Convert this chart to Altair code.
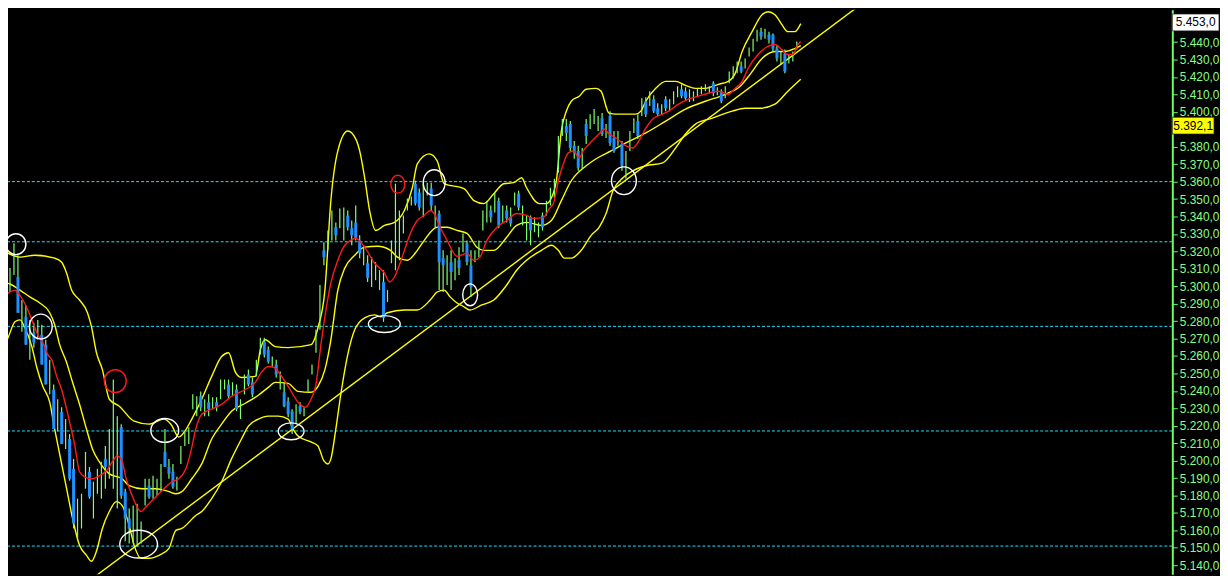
import altair as alt
import pandas as pd

# ---------------- data (prices) ----------------
high = [5309.2, 5309.2, 5310.4, 5324.6, 5317.8, 5292.1, 5289.3, 5280.7, 5279.1, 5280.7,
        5277.9, 5269.3, 5257.9, 5243.7, 5235.2, 5230.6, 5223.8, 5215.2, 5201.0, 5178.2,
        5181.0, 5205.0, 5196.4, 5187.9, 5195.3, 5199.3, 5208.4, 5218.1, 5246.5, 5225.5,
        5220.9, 5183.9, 5172.5, 5174.2, 5175.3, 5165.1, 5189.6, 5189.6, 5191.3, 5189.6,
        5198.1, 5218.1, 5201.0, 5198.1, 5190.7, 5208.4, 5216.9, 5219.2, 5238.0, 5236.9,
        5239.7, 5235.2, 5238.0, 5236.3, 5236.3, 5246.5, 5246.5, 5246.5, 5244.9, 5243.7,
        5235.2, 5249.4, 5252.2, 5247.7, 5257.9, 5270.5, 5270.5, 5265.4, 5259.7, 5257.9,
        5251.1, 5244.9, 5236.3, 5229.5, 5232.3, 5233.5, 5230.6, 5246.5, 5255.1, 5275.1,
        5300.7, 5325.2, 5332.0, 5343.4, 5336.6, 5344.6, 5345.2, 5343.4, 5337.7, 5346.3,
        5329.2, 5323.5, 5317.8, 5316.7, 5313.8, 5309.2, 5309.2, 5297.8, 5326.3, 5358.8,
        5343.4, 5340.6, 5350.3, 5351.4, 5360.5, 5356.0, 5358.8, 5359.4, 5359.4, 5346.3,
        5343.4, 5320.6, 5317.8, 5320.6, 5316.1, 5322.4, 5330.3, 5326.3, 5320.6, 5320.6,
        5326.3, 5343.4, 5349.1, 5346.3, 5353.7, 5350.8, 5346.3, 5346.3, 5345.2, 5353.7,
        5354.8, 5346.3, 5340.6, 5340.6, 5339.5, 5336.6, 5342.3, 5349.1, 5356.5, 5361.7,
        5386.2, 5395.9, 5395.9, 5394.7, 5383.3, 5380.5, 5379.3, 5395.9, 5398.7, 5401.6,
        5397.6, 5399.3, 5393.0, 5400.4, 5389.0, 5389.0, 5383.3, 5377.6, 5389.0, 5396.4,
        5398.7, 5407.8, 5408.4, 5411.8, 5409.5, 5405.0, 5404.4, 5409.0, 5407.3, 5411.8,
        5414.7, 5415.8, 5414.1, 5413.0, 5411.8, 5413.5, 5414.7, 5415.8, 5414.7, 5417.5,
        5414.1, 5413.0, 5414.7, 5423.2, 5426.1, 5428.9, 5428.9, 5430.6, 5436.9, 5442.0,
        5447.1, 5448.3, 5447.7, 5446.0, 5444.9, 5438.0, 5434.6, 5435.7, 5432.9, 5434.6,
        5440.3]
low = [5295.0, 5300.7, 5296.7, 5306.4, 5284.8, 5273.9, 5266.5, 5257.9, 5264.8, 5269.3,
       5255.1, 5243.7, 5238.0, 5218.1, 5216.9, 5209.5, 5206.7, 5188.5, 5161.1, 5155.4,
       5161.1, 5183.9, 5178.2, 5166.8, 5181.0, 5178.2, 5183.9, 5189.6, 5183.9, 5172.5,
       5178.2, 5153.7, 5152.5, 5152.5, 5150.8, 5152.5, 5174.2, 5178.2, 5178.2, 5179.9,
       5182.2, 5196.4, 5189.6, 5183.9, 5182.8, 5198.1, 5208.4, 5209.5, 5229.5, 5225.5,
       5228.3, 5225.5, 5225.5, 5229.5, 5228.3, 5235.2, 5240.8, 5235.2, 5236.9, 5228.3,
       5223.8, 5238.0, 5242.6, 5236.3, 5248.3, 5260.8, 5259.1, 5255.7, 5254.0, 5247.7,
       5240.8, 5230.6, 5224.9, 5215.2, 5220.9, 5226.6, 5225.5, 5239.7, 5249.4, 5261.9,
       5275.1, 5312.1, 5320.6, 5326.3, 5326.3, 5333.2, 5326.3, 5332.0, 5323.5, 5326.3,
       5316.1, 5312.1, 5302.4, 5299.6, 5303.5, 5297.8, 5279.6, 5291.0, 5313.2, 5309.2,
       5314.9, 5330.3, 5343.4, 5346.3, 5346.3, 5343.4, 5339.5, 5352.0, 5343.4, 5333.8,
       5297.8, 5296.7, 5300.7, 5297.8, 5303.5, 5306.4, 5319.5, 5312.1, 5293.9, 5313.8,
       5316.7, 5332.0, 5336.6, 5336.6, 5342.3, 5333.2, 5336.0, 5336.6, 5334.3, 5346.3,
       5343.4, 5334.9, 5326.3, 5323.5, 5330.9, 5328.1, 5332.0, 5340.6, 5346.3, 5350.8,
       5365.1, 5386.2, 5383.3, 5377.6, 5373.1, 5366.2, 5367.4, 5381.6, 5390.2, 5393.0,
       5389.0, 5386.2, 5385.0, 5380.5, 5376.5, 5380.5, 5366.2, 5361.7, 5377.6, 5387.9,
       5384.5, 5397.6, 5397.0, 5403.3, 5399.3, 5397.6, 5398.7, 5400.4, 5400.4, 5404.4,
       5408.4, 5407.8, 5406.7, 5405.6, 5406.1, 5408.4, 5410.1, 5411.8, 5410.7, 5409.0,
       5409.5, 5405.0, 5407.8, 5416.4, 5419.2, 5422.1, 5422.1, 5424.9, 5431.8, 5434.6,
       5440.3, 5441.4, 5442.0, 5439.2, 5434.6, 5428.9, 5427.2, 5422.1, 5427.8, 5428.9,
       5435.7]

down_bar = [0, 4, 6, 8, 10, 11, 13, 15, 17, 18, 22, 26, 30, 31, 32, 37, 41, 42, 43, 50,
            52, 54, 57, 59, 62, 63, 66, 67, 69, 71, 72, 73, 75, 81, 84, 87, 88, 89, 90, 92,
            96, 104, 105, 108, 110, 111, 113, 115, 117, 118, 123, 125, 127, 128, 130, 133, 136, 142, 143, 144,
            145, 147, 151, 153, 154, 156, 160, 162, 164, 165, 167, 171, 172, 179, 181, 186, 191, 193, 194, 195,
            197]
down_open = [5304.7, 5305.3, 5282.5, 5273.4, 5272.2, 5266.5, 5240.8, 5227.8, 5212.4, 5195.3, 5193.6, 5201.0, 5219.2, 5182.2, 5166.8, 5185.6, 5205.0, 5196.4, 5193.6, 5236.9,
             5233.5, 5233.5, 5243.7, 5240.8, 5249.4, 5244.9, 5268.2, 5263.6, 5255.1, 5239.2, 5234.0, 5228.3, 5231.2, 5320.6, 5333.8, 5340.6, 5333.2, 5336.6, 5326.3, 5313.2,
             5302.4, 5358.8, 5353.7, 5356.0, 5341.7, 5316.1, 5313.8, 5314.9, 5324.6, 5312.1, 5343.4, 5349.1, 5343.4, 5339.5, 5353.1, 5339.5, 5340.6, 5391.9, 5393.0, 5380.5,
             5377.6, 5393.0, 5396.4, 5397.6, 5385.0, 5381.6, 5394.7, 5406.1, 5407.3, 5402.1, 5407.3, 5413.0, 5411.8, 5416.4, 5411.8, 5426.1, 5446.0, 5444.3, 5444.3, 5436.3,
             5433.5]
down_close = [5297.8, 5284.8, 5266.5, 5267.7, 5255.1, 5243.7, 5218.1, 5209.5, 5189.6, 5164.0, 5179.3, 5196.4, 5179.9, 5166.8, 5161.1, 5179.3, 5196.4, 5192.4, 5185.0, 5230.6,
              5229.5, 5230.6, 5236.9, 5229.5, 5243.7, 5238.0, 5260.8, 5256.8, 5249.4, 5231.2, 5226.6, 5218.1, 5227.8, 5316.7, 5329.2, 5333.8, 5329.2, 5327.5, 5318.9, 5304.7,
              5281.9, 5347.4, 5345.2, 5346.3, 5313.8, 5312.1, 5308.1, 5310.4, 5313.8, 5299.6, 5339.5, 5334.9, 5338.9, 5336.0, 5345.2, 5332.0, 5333.8, 5387.9, 5379.3, 5376.5,
              5368.0, 5386.2, 5387.3, 5382.2, 5377.6, 5369.1, 5386.2, 5398.7, 5400.4, 5398.7, 5402.1, 5409.0, 5407.8, 5410.7, 5406.1, 5423.2, 5443.2, 5441.4, 5436.3, 5430.6,
              5423.2]

upper_x = [-0.5, 4.5, 8.25, 13.25, 15, 16.25, 17.5, 19.5, 21.5, 22.5, 23.75, 25.25, 27, 29.5, 33.25, 37, 40.75, 42.5, 44.5, 46,
           47.75, 50.25, 52.75, 55.25, 57, 58.75, 60.25, 63.75, 65, 66.25, 68.75, 72, 77.75, 79.5, 81.25, 82.75, 84.5, 87, 89, 90,
           91.25, 92.5, 94, 96.25, 98.75, 101.25, 103.25, 104.5, 107.5, 109.5, 111.25, 116.25, 118.75, 121.25, 123.75, 126.25, 128.75, 130.75, 132, 135.25,
           137, 138.5, 139.5, 140.75, 142, 143.25, 145.25, 147, 149.5, 150.75, 152.75, 154.5, 159.5, 160.75, 162, 164.5, 167, 169.5, 172, 174.5,
           177, 180.25, 182.75, 184.5, 186.25, 188.75, 191.25, 192.75, 194.5, 196.25, 197.75, 199.5, 201]
upper_p = [5321.8, 5316.7, 5317.8, 5316.1, 5313.8, 5307.5, 5297.8, 5292.1, 5284.8, 5276.8, 5261.9, 5252.2, 5235.2, 5231.2, 5222.6, 5220.9, 5223.8, 5220.9, 5213.5, 5216.9,
           5223.8, 5235.2, 5248.3, 5259.7, 5261.9, 5250.6, 5247.7, 5248.3, 5263.6, 5269.3, 5265.4, 5264.8, 5266.5, 5276.2, 5297.8, 5349.1, 5377.6, 5389.0, 5384.5, 5377.6,
           5362.2, 5343.4, 5332.0, 5334.9, 5336.6, 5343.4, 5356.5, 5370.2, 5375.9, 5371.9, 5358.8, 5356.0, 5349.1, 5347.4, 5353.1, 5358.8, 5359.4, 5362.2, 5356.5, 5347.4,
           5347.4, 5352.0, 5360.5, 5389.0, 5400.4, 5406.1, 5409.0, 5413.0, 5413.5, 5411.8, 5399.3, 5398.7, 5398.7, 5400.4, 5406.1, 5413.5, 5417.5, 5417.5, 5415.2, 5413.5,
           5413.5, 5415.8, 5417.5, 5422.1, 5434.6, 5446.0, 5455.7, 5457.4, 5455.7, 5450.0, 5446.0, 5446.0, 5450.6]

mid_x = [-0.5, 2, 4.5, 7, 9.5, 12, 13.25, 14.5, 16.25, 17.75, 19.5, 21.25, 22.75, 24.5, 27, 30.25, 32, 35.25, 38.75, 42,
         43.75, 45.25, 47.75, 50.25, 52.75, 55.25, 57.75, 61.25, 64.5, 67, 68.75, 72, 74.5, 77.75, 79.5, 81.25, 82.75, 84.5, 86.25, 88.75,
         91.25, 94.5, 97.75, 99.5, 102, 104.5, 106.25, 109.5, 112, 114.5, 117, 119.5, 121.25, 123.75, 127, 129.5, 132, 135.75, 138.25, 140.75,
         143.25, 147, 149.5, 153.25, 157, 162, 167, 172, 177, 182, 185.75, 188.25, 191.25, 194.5, 197, 199.5, 201]
mid_p = [5302.4, 5301.3, 5297.8, 5293.9, 5290.4, 5284.8, 5277.9, 5266.5, 5256.3, 5244.9, 5232.3, 5218.1, 5206.7, 5199.3, 5192.4, 5189.6, 5185.6, 5183.9, 5183.9, 5182.2,
         5181.0, 5182.2, 5189.6, 5198.1, 5212.4, 5220.9, 5228.3, 5232.9, 5237.5, 5242.0, 5244.9, 5244.3, 5239.7, 5239.2, 5242.6, 5252.2, 5269.3, 5297.8, 5310.4, 5317.8,
         5322.4, 5322.9, 5320.6, 5316.7, 5314.9, 5320.6, 5326.3, 5333.8, 5333.8, 5332.0, 5330.3, 5322.4, 5320.6, 5320.6, 5328.1, 5334.9, 5336.6, 5334.9, 5337.7, 5349.1,
         5360.5, 5369.1, 5373.1, 5377.6, 5382.2, 5387.9, 5394.7, 5401.6, 5406.1, 5410.1, 5414.7, 5421.5, 5430.6, 5434.6, 5434.6, 5436.3, 5438.0]

lower_x = [-0.5, 1.25, 3.25, 4.5, 5.75, 7.5, 8.75, 10.25, 12, 13.25, 14.5, 16.25, 17.75, 19.5, 21.25, 22.5, 23.75, 25.25, 27, 28.75,
           30.25, 32, 33.25, 35, 37, 39.5, 42, 43.75, 45.25, 48.75, 50.25, 52.75, 55.25, 57.75, 60.25, 62, 64.5, 67, 69.5, 72,
           73.25, 74.5, 77.75, 79.5, 81, 82, 82.75, 84, 85.25, 87, 88.75, 91.25, 93.75, 95.25, 97, 101.25, 104.5, 107.75, 109.5, 111.25,
           112.75, 114.5, 116.25, 117.75, 120.75, 123.75, 127, 129.5, 132, 135.75, 138.25, 140, 141.5, 143.25, 145.75, 148.25, 150.25, 152, 153.75, 156.25,
           158.75, 162, 166.25, 169.5, 172, 174.5, 178.75, 183.75, 187, 190.75, 194.5, 197.75, 201]
lower_p = [5265.4, 5269.3, 5279.6, 5280.7, 5276.2, 5265.4, 5253.4, 5242.6, 5233.5, 5218.1, 5203.8, 5183.9, 5166.8, 5151.4, 5145.7, 5142.3, 5148.0, 5161.1, 5170.8, 5176.5,
           5174.2, 5162.8, 5151.4, 5144.0, 5144.0, 5145.7, 5149.7, 5160.0, 5161.1, 5168.5, 5170.8, 5178.2, 5187.9, 5201.0, 5212.4, 5219.8, 5223.8, 5225.5, 5225.5, 5223.8,
           5218.1, 5214.1, 5210.7, 5208.4, 5199.8, 5198.1, 5201.0, 5218.1, 5238.0, 5260.8, 5275.0, 5281.9, 5283.6, 5282.5, 5284.8, 5286.4, 5286.4, 5292.1, 5296.7, 5297.8,
           5293.9, 5290.4, 5288.2, 5286.4, 5289.3, 5292.1, 5300.7, 5309.2, 5314.9, 5320.6, 5323.5, 5320.6, 5316.1, 5316.1, 5320.6, 5329.2, 5333.8, 5341.7, 5354.8, 5362.2,
           5366.2, 5369.1, 5370.8, 5379.3, 5387.3, 5393.0, 5396.4, 5400.4, 5402.1, 5402.1, 5404.4, 5411.8, 5418.7]

ma_x = [-0.5, 2, 3.25, 4, 5.25, 6.5, 7.75, 9, 10.25, 11.5, 12.5, 13.75, 15, 16.25, 17, 18.25, 19.5, 20.75, 22.75, 24.5,
        26.25, 27.75, 29, 30, 31.25, 32.75, 35, 36.25, 38.75, 41.25, 42.75, 44.5, 46.25, 47.5, 48.75, 50.25, 52.75, 55.25, 57.75, 61.25,
        63.75, 65.25, 67, 68.5, 70, 72, 74.5, 76.25, 77.75, 79, 80.25, 81.25, 82.75, 84.5, 86.25, 87.75, 89, 91.25, 93.75, 96.25,
        97.5, 98.75, 100.25, 102.75, 104.5, 106.25, 107.75, 108.75, 110.25, 112, 114.5, 117, 118.75, 120.25, 122, 124.5, 127, 129.5, 132, 133.75,
        136.25, 137.75, 138.75, 140, 141.25, 142.5, 143.75, 145.25, 146.25, 147.75, 150.25, 151.5, 152.75, 154.5, 157, 158.75, 160.25, 162, 163.75, 166.25,
        167.75, 170.25, 172.75, 175.25, 177.75, 180.25, 182.75, 184.5, 186.25, 187.75, 190.25, 192.75, 194.5, 196.25, 197.75, 199, 200.25, 201]
ma_p = [5292.1, 5296.7, 5297.8, 5296.1, 5292.1, 5286.4, 5279.1, 5272.2, 5267.6, 5260.8, 5257.9, 5248.3, 5240.8, 5229.5, 5222.1, 5209.5, 5193.6, 5190.7, 5189.6, 5191.3,
        5194.2, 5199.3, 5202.7, 5201.0, 5189.6, 5179.9, 5170.8, 5173.6, 5179.3, 5185.0, 5187.9, 5189.6, 5195.3, 5205.0, 5218.1, 5226.6, 5229.5, 5232.3, 5236.9, 5240.8,
        5244.9, 5250.6, 5254.0, 5253.4, 5249.4, 5242.6, 5233.5, 5230.6, 5235.2, 5243.7, 5266.5, 5282.5, 5301.9, 5314.9, 5323.5, 5326.3, 5327.5, 5322.4, 5313.2, 5307.5,
        5302.4, 5305.3, 5313.8, 5330.3, 5337.7, 5340.6, 5343.4, 5341.7, 5333.8, 5326.3, 5317.2, 5318.9, 5314.9, 5316.7, 5326.3, 5333.8, 5337.7, 5341.7, 5340.6, 5338.9,
        5339.5, 5344.6, 5347.4, 5360.5, 5370.2, 5376.5, 5377.6, 5373.6, 5377.6, 5381.6, 5387.3, 5390.2, 5387.3, 5385.0, 5380.5, 5379.3, 5383.3, 5390.7, 5395.9, 5398.7,
        5400.4, 5404.4, 5407.3, 5409.0, 5410.7, 5411.8, 5410.1, 5413.5, 5417.5, 5424.9, 5432.9, 5437.5, 5438.6, 5435.7, 5432.9, 5432.9, 5438.6, 5440.3]

trend_x = [21.5, 217.0]
trend_p = [5130.3, 5463.1]

levels = [5360.0, 5325.5, 5277.0, 5217.0, 5151.0]

white_ring_x = [3.5, 9.75, 40.95, 34.375, 72.75, 96.2, 108.75, 117.8, 156.5]
white_ring_p = [5324.1, 5276.9, 5217.3, 5152.1, 5216.8, 5278.3, 5359.4, 5295.1, 5360.5]
red_ring_x = [28.5, 99.6]
red_ring_p = [5245.6, 5358.5]

# tick labels shown on the price axis (5.450 and 5.390 sit under the price boxes)
y_ticks = [5140, 5150, 5160, 5170, 5180, 5190, 5200, 5210, 5220, 5230, 5240, 5250, 5260, 5270, 5280, 5290,
           5300, 5310, 5320, 5330, 5340, 5350, 5360, 5370, 5380, 5400, 5410, 5420, 5430, 5440]

box_values = [5453.0, 5392.1]
box_labels = ["5.453,0", "5.392,1"]

# ---------------- styles ----------------
white_ring_dims = [(20, 21), (23, 25), (28, 24), (38, 28), (26, 17), (32, 17), (22, 26), (15, 22), (25, 28)]
red_ring_dims = [(22, 23), (14, 18)]

GREEN = "#80ff70"
BLUE = "#1e90ff"
YELLOW = "#ffff00"
RED = "#ff1a1a"
CYAN = "#1fe0ff"
AXIS_GREEN = "#66ff66"
LABEL_GREEN = "#86ff86"

xs = alt.Scale(domain=[1.5, 294.5], nice=False, zero=False)
ys = alt.Scale(domain=[5134.9, 5458.5], nice=False, zero=False)

label_expr = ("substring(format(datum.value,'.1f'),0,1)+'.'+substring(format(datum.value,'.1f'),1,4)"
              "+','+substring(format(datum.value,'.1f'),5,6)")
y_axis = alt.Axis(orient="right", values=y_ticks, labelExpr=label_expr, grid=False, title=None,
                  domainColor=AXIS_GREEN, domainWidth=2, tickColor=AXIS_GREEN, tickSize=5, tickWidth=1,
                  labelColor=LABEL_GREEN, labelFont="Liberation Sans", labelFontSize=12, labelPadding=2,
                  labelOverlap=False, labelFlush=False, labelBound=False, zindex=0)


def X(field):
    return alt.X(field, type="quantitative", scale=xs, axis=None)


def Y(field):
    return alt.Y(field, type="quantitative", scale=ys, axis=y_axis)


def ellipse_path(w, h):
    s = max(w, h)
    a, b = w / s, h / s
    k = 0.5523
    return (f"M {a} 0 C {a} {k*b} {k*a} {b} 0 {b} C {-k*a} {b} {-a} {k*b} {-a} 0 "
            f"C {-a} {-k*b} {-k*a} {-b} 0 {-b} C {k*a} {-b} {a} {-k*b} {a} 0 Z"), s * s


bars_df = pd.DataFrame({"i": list(range(len(high))), "hi": high, "lo": low})
down_df = pd.DataFrame({"i": down_bar, "o": down_open, "c": down_close})

layers = []

lev_df = pd.DataFrame({"p": levels})
layers.append(alt.Chart(lev_df).mark_rule(color=CYAN, strokeWidth=1, strokeDash=[3, 2], clip=True)
              .encode(y=Y("p")))


def line_layer(xv, pv, color, width=1.4, interp="monotone"):
    df = pd.DataFrame({"x": xv, "p": pv})
    return alt.Chart(df).mark_line(color=color, strokeWidth=width, interpolate=interp, clip=True).encode(
        x=X("x"), y=Y("p"))


layers.append(line_layer(upper_x, upper_p, YELLOW))
layers.append(line_layer(mid_x, mid_p, YELLOW))
layers.append(line_layer(lower_x, lower_p, YELLOW))
layers.append(line_layer(trend_x, trend_p, YELLOW, 1.4, "linear"))

layers.append(alt.Chart(bars_df).mark_rule(color=GREEN, strokeWidth=1.2, clip=True).encode(
    x=X("i"), y=Y("hi"), y2="lo"))
layers.append(alt.Chart(down_df).mark_rule(color=BLUE, strokeWidth=3, strokeCap="butt", clip=True).encode(
    x=X("i"), y=Y("o"), y2="c"))

layers.append(line_layer(ma_x, ma_p, RED, 1.4))

for xv, pv, dims, col in [(white_ring_x, white_ring_p, white_ring_dims, "white"),
                          (red_ring_x, red_ring_p, red_ring_dims, RED)]:
    for k in range(len(xv)):
        path, size = ellipse_path(*dims[k])
        df = pd.DataFrame({"x": [xv[k]], "p": [pv[k]]})
        layers.append(alt.Chart(df).mark_point(shape=path, size=size, filled=False, color=col,
                                               strokeWidth=1.4, opacity=1, clip=True)
                      .encode(x=X("x"), y=Y("p")))

# price boxes on the right axis
box_specs = [("white", 47, 17, 1195.5, 3), (YELLOW, 42, 17, 1193, 0)]
for k in range(len(box_values)):
    fill, w, h, cx, dy = box_specs[k]
    df = pd.DataFrame({"p": [box_values[k]], "t": [box_labels[k]]})
    rect_path = f"M -1 {-h / w} L 1 {-h / w} L 1 {h / w} L -1 {h / w} Z"
    layers.append(alt.Chart(df).mark_point(shape=rect_path, size=w * w, filled=True, fill=fill,
                                           stroke="#222222", strokeWidth=0.8, opacity=1, yOffset=dy)
                  .encode(x=alt.value(cx), y=Y("p")))
    layers.append(alt.Chart(df).mark_text(color="black", font="Liberation Sans", fontSize=12,
                                          align="center", baseline="middle", yOffset=dy)
                  .encode(x=alt.value(cx), y=Y("p"), text="t:N"))

chart = alt.layer(*layers).properties(
    width=1172, height=568,
    autosize=alt.AutoSizeParams(type="none"),
    padding={"left": 0, "top": 0, "right": 48, "bottom": 0},
    background="black",
).configure_view(strokeWidth=0)

chart.save("out.html", embed_options={"renderer": "svg", "actions": False})
